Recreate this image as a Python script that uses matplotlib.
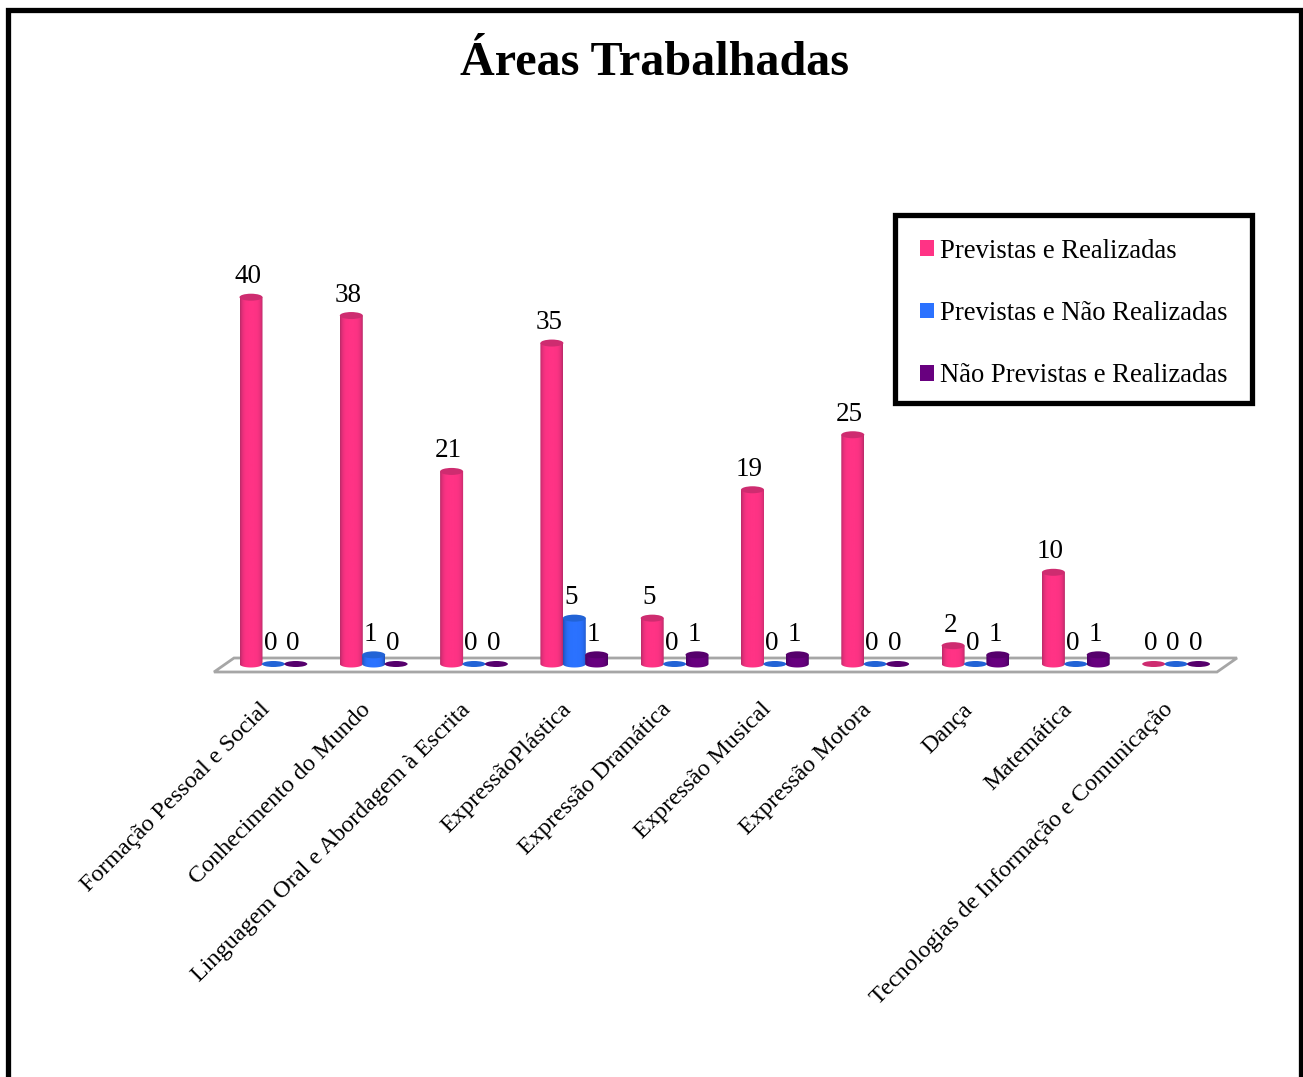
import numpy as np
import matplotlib
matplotlib.use('Agg')
import matplotlib.pyplot as plt
from matplotlib.colors import LinearSegmentedColormap
from matplotlib.patches import Ellipse, Patch, PathPatch, Polygon, Rectangle
from matplotlib.path import Path

plt.rcParams['font.family'] = ['Liberation Serif', 'DejaVu Serif']

categories = ['Formação Pessoal e Social', 'Conhecimento do Mundo',
              'Linguagem Oral e Abordagem à Escrita', 'ExpressãoPlástica',
              'Expressão Dramática', 'Expressão Musical', 'Expressão Motora',
              'Dança', 'Matemática', 'Tecnologias de Informação e Comunicação']
series_names = ['Previstas e Realizadas', 'Previstas e Não Realizadas',
                'Não Previstas e Realizadas']
realizadas = [40, 38, 21, 35, 5, 19, 25, 2, 10, 0]
nao_realizadas = [0, 1, 0, 5, 0, 0, 0, 0, 0, 0]
nao_previstas = [0, 0, 0, 1, 1, 1, 0, 1, 1, 0]

# main colour, edge shade, cap colour
pink = ['#FF3385', '#B82A68', '#CE2C70']
blue = ['#2B72FF', '#1F50B8', '#2263D6']
purple = ['#68007F', '#480060', '#56006C']

W, H = 1303, 1077
PX_X = 100.3   # pixels per category
PX_Y = 9.17    # pixels per unit of value
X0, Y0 = 251, 664   # pixel of first pink bar / zero line
BAR_W = 23 / PX_X
STEP = 22.4 / PX_X
CAP_H = 7 / PX_Y


def body_path(x, v):
    # cylinder outline, rounded at the bottom
    t = np.linspace(np.pi, 2 * np.pi, 30)
    xs = x + BAR_W / 2 * np.cos(t)
    ys = CAP_H / 2 * np.sin(t)
    pts = list(zip(xs, ys)) + [(x + BAR_W / 2, v), (x - BAR_W / 2, v), (x - BAR_W / 2, 0)]
    return Path(pts)


def draw_bar(ax, x, v, colors, z):
    if v == 0:
        ax.add_patch(Ellipse((x, 0), BAR_W, 6 / PX_Y, fc=colors[2], ec='none', zorder=z))
    else:
        cmap = LinearSegmentedColormap.from_list('c', [colors[0], colors[1]])
        # dark only close to the edges of the cylinder
        grad = np.abs(np.linspace(-1, 1, 64))[None, :] ** 4
        im = ax.imshow(grad, cmap=cmap, vmin=0, vmax=1, aspect='auto', zorder=z,
                       extent=(x - BAR_W / 2, x + BAR_W / 2, -CAP_H, v))
        clip = PathPatch(body_path(x, v), transform=ax.transData, fc='none', ec='none')
        ax.add_patch(clip)
        im.set_clip_path(clip)
        ax.add_patch(Ellipse((x, v), BAR_W, CAP_H, fc=colors[2], ec='none', zorder=z + 0.1))
    ax.text(x - 3 / PX_X, v + 20.5 / PX_Y, str(v), ha='center', va='center', fontsize=19.5,
            color='black', zorder=20)


fig = plt.figure(figsize=(W / 100, H / 100), dpi=100, facecolor='white')
ax = fig.add_axes([0, 0, 1, 1])
ax.axis('off')

# floor of the 3d chart
floor = [(214, 672), (1217, 672), (1237, 658), (234, 658)]
floor = [((px - X0) / PX_X, (Y0 - py) / PX_Y) for px, py in floor]
ax.add_patch(Polygon(floor, closed=True, fc='white', ec='#A6A6A6', lw=2, zorder=1))

for i in range(len(categories)):
    draw_bar(ax, i, realizadas[i], pink, 3 + i)
    draw_bar(ax, i + STEP, nao_realizadas[i], blue, 3.3 + i)
    draw_bar(ax, i + 2 * STEP, nao_previstas[i], purple, 3.6 + i)
    ax.text(i + 0.085, -35 / PX_Y, categories[i], rotation=45, rotation_mode='anchor',
            ha='right', va='top', fontsize=17.4, color='black')

ax.set_xlim(-X0 / PX_X, (W - X0) / PX_X)
ax.set_ylim((Y0 - H) / PX_Y, Y0 / PX_Y)

fig.text(655 / W, 1 - 63 / H, 'Áreas Trabalhadas', ha='center', va='center',
         fontsize=34.7, fontweight='bold', color='black')

# outer frame, runs off the bottom of the picture
fig.add_artist(Rectangle((7.5 / W, -0.05), (1293 / W), 1.05 - 10 / H, transform=fig.transFigure,
                         fc='none', ec='black', lw=3.8))

# legend frame is separate so the padding can differ per side
fig.add_artist(Rectangle((894.5 / W, 1 - 403 / H), 357 / W, 187.5 / H, transform=fig.transFigure,
                         fc='white', ec='black', lw=3.8, zorder=5))
handles = [Patch(fc=c[0], ec='none') for c in (pink, blue, purple)]
leg = fig.legend(handles, series_names, loc='upper left',
                 bbox_to_anchor=(920 / W, 1 - 238.5 / H), bbox_transform=fig.transFigure,
                 fontsize=19.2, frameon=False,
                 handlelength=0.525, handleheight=0.525, handletextpad=0.22,
                 labelspacing=1.405, borderpad=0, borderaxespad=0)
leg.set_zorder(6)

fig.savefig('out.png', dpi=100)
